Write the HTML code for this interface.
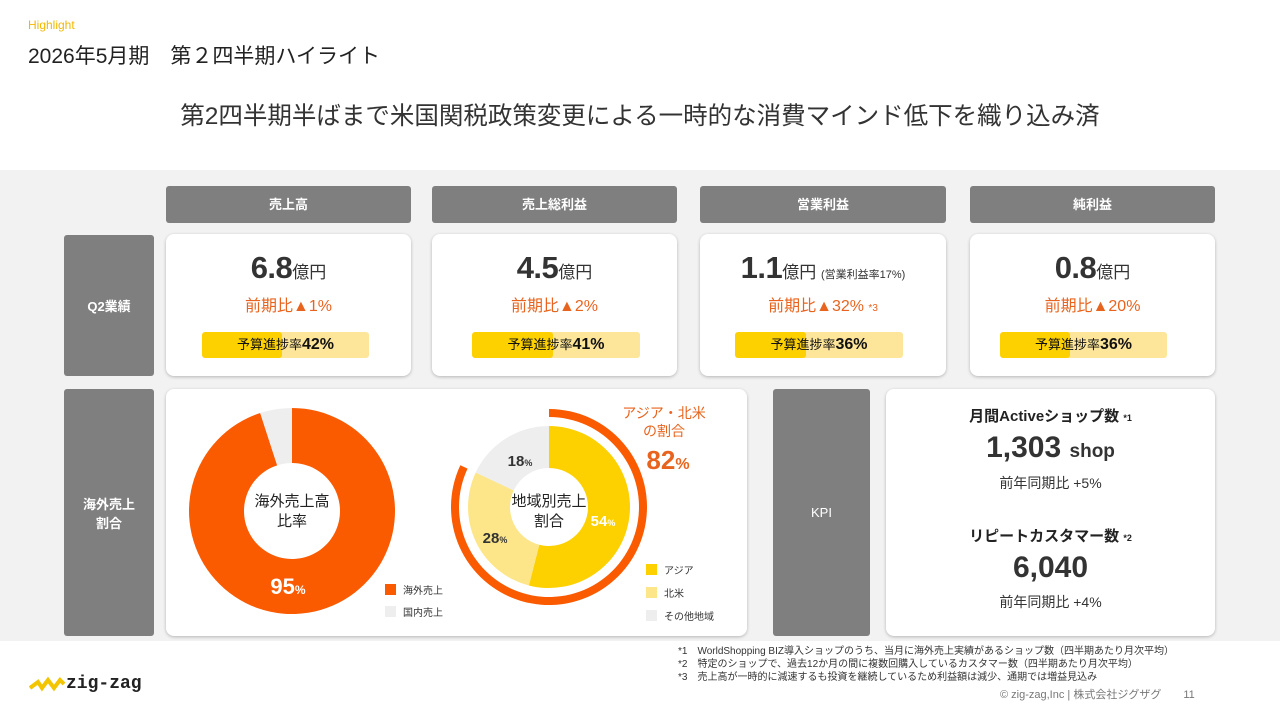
<!DOCTYPE html>
<html><head><meta charset="utf-8">
<style>
*{margin:0;padding:0;box-sizing:border-box}
body{width:1280px;height:720px;background:#fff;font-family:"Liberation Sans","Noto Sans CJK JP",sans-serif;color:#333;position:relative;overflow:hidden}
.a{position:absolute}
.hdr{background:#7f7f7f;color:#fff;font-size:13px;font-weight:bold;text-align:center;line-height:37px;border-radius:3px;height:37px;top:186px}
.side{background:#7f7f7f;color:#fff;font-size:13px;font-weight:bold;display:flex;align-items:center;justify-content:center;text-align:center;border-radius:3px;left:64px;width:90px}
.card{background:#fff;border-radius:8px;box-shadow:0 1px 3px rgba(0,0,0,.25)}
.val{width:100%;text-align:center;top:16px;font-size:17px;color:#333}
.val b{font-size:31px;font-weight:bold;letter-spacing:-0.5px}
.chg{width:100%;text-align:center;top:58px;font-size:16px;color:#e8641e}
.bar{top:98px;height:26px;background:#fde59a;border-radius:3px;overflow:hidden}
.bar i{position:absolute;left:0;top:0;height:100%;background:#fdd000;border-radius:3px}
.bar span{position:absolute;width:100%;text-align:center;font-size:13px;line-height:26px;color:#111}
.bar span b{font-size:16px}
</style></head><body>
<div class="a" style="left:28px;top:18px;font-size:12px;color:#f2b800">Highlight</div>
<div class="a" style="left:28px;top:40px;font-size:21px;color:#222">2026年5月期　第２四半期ハイライト</div>
<div class="a" style="left:0;width:1280px;text-align:center;top:97px;font-size:24.5px;color:#333">第2四半期半ばまで米国関税政策変更による一時的な消費マインド低下を織り込み済</div>
<div class="a" style="left:0;top:170px;width:1280px;height:471px;background:#f2f2f2"></div>

<div class="a hdr" style="left:166px;width:245px">売上高</div>
<div class="a hdr" style="left:432px;width:245px">売上総利益</div>
<div class="a hdr" style="left:700px;width:246px">営業利益</div>
<div class="a hdr" style="left:970px;width:245px">純利益</div>

<div class="a side" style="top:235px;height:141px">Q2業績</div>
<div class="a side" style="top:389px;height:247px">海外売上<br>割合</div>

<div class="a card" style="left:166px;top:234px;width:245px;height:142px">
<div class="a val"><b>6.8</b>億円</div><div class="a chg">前期比▲1%</div>
<div class="a bar" style="left:36px;width:167px"><i style="width:48%"></i><span>予算進捗率<b>42%</b></span></div></div>
<div class="a card" style="left:432px;top:234px;width:245px;height:142px">
<div class="a val"><b>4.5</b>億円</div><div class="a chg">前期比▲2%</div>
<div class="a bar" style="left:40px;width:168px"><i style="width:48%"></i><span>予算進捗率<b>41%</b></span></div></div>
<div class="a card" style="left:700px;top:234px;width:246px;height:142px">
<div class="a val"><b>1.1</b>億円 <span style="font-size:11px">(営業利益率17%)</span></div><div class="a chg">前期比▲32% <span style="font-size:10px">*3</span></div>
<div class="a bar" style="left:35px;width:168px"><i style="width:42%"></i><span>予算進捗率<b>36%</b></span></div></div>
<div class="a card" style="left:970px;top:234px;width:245px;height:142px">
<div class="a val"><b>0.8</b>億円</div><div class="a chg">前期比▲20%</div>
<div class="a bar" style="left:30px;width:167px"><i style="width:42%"></i><span>予算進捗率<b>36%</b></span></div></div>

<div class="a card" style="left:166px;top:389px;width:581px;height:247px"></div>
<svg class="a" id="ch" style="left:0;top:0" width="1280" height="720"></svg>

<div class="a side" style="left:773px;top:389px;height:247px;width:97px;font-weight:normal">KPI</div>
<div class="a card" style="left:886px;top:389px;width:329px;height:247px;text-align:center">
<div class="a" style="width:100%;top:16px;font-size:15px;font-weight:bold;color:#222">月間Activeショップ数 <span style="font-size:9px">*1</span></div>
<div class="a" style="width:100%;top:42px;font-size:30px;font-weight:bold;color:#333">1,303 <span style="font-size:19px">shop</span></div>
<div class="a" style="width:100%;top:84px;font-size:14px">前年同期比 +5%</div>
<div class="a" style="width:100%;top:136px;font-size:15px;font-weight:bold;color:#222">リピートカスタマー数 <span style="font-size:9px">*2</span></div>
<div class="a" style="width:100%;top:162px;font-size:30px;font-weight:bold;color:#333">6,040</div>
<div class="a" style="width:100%;top:203px;font-size:14px">前年同期比 +4%</div>
</div>

<div class="a" style="left:678px;top:645px;font-size:10px;line-height:13px;color:#333">*1　WorldShopping BIZ導入ショップのうち、当月に海外売上実績があるショップ数（四半期あたり月次平均）<br>*2　特定のショップで、過去12か月の間に複数回購入しているカスタマー数（四半期あたり月次平均）<br>*3　売上高が一時的に減速するも投資を継続しているため利益額は減少、通期では増益見込み</div>
<div class="a" style="left:1000px;top:686px;font-size:11px;color:#777">© zig-zag,Inc | 株式会社ジグザグ　　11</div>
<div class="a" style="left:28px;top:670px;display:flex;align-items:center">
<svg width="38" height="28"><polyline points="2,18 10,12 14,18 20,10 26,18 32,10 36,14" fill="none" stroke="#f2c500" stroke-width="4"/></svg>
<span style="font-size:18px;font-family:'Liberation Mono',monospace;font-weight:bold;color:#222">zig-zag</span></div>

<script>
const d1Labels=['海外売上','国内売上'];
const d1Values=[95,5];
const d1Colors=['#fa5a00','#eeeeee'];
const d2Labels=['アジア','北米','その他地域'];
const d2Values=[54,28,18];
const d2Colors=['#fdd000','#fde68a','#eeeeee'];
const ringValue=82;
const svg=document.getElementById('ch');
const NS='http://www.w3.org/2000/svg';
function pt(cx,cy,r,f){const a=f*2*Math.PI-Math.PI/2;return [cx+r*Math.cos(a),cy+r*Math.sin(a)];}
function arc(cx,cy,r0,r1,f0,f1){const L=(f1-f0)>0.5?1:0;const[a,b]=pt(cx,cy,r1,f0),[c,d]=pt(cx,cy,r1,f1),[e,f]=pt(cx,cy,r0,f1),[g,h]=pt(cx,cy,r0,f0);
return `M${a},${b}A${r1},${r1} 0 ${L} 1 ${c},${d}L${e},${f}A${r0},${r0} 0 ${L} 0 ${g},${h}Z`;}
function el(t,at,txt){const e=document.createElementNS(NS,t);for(const k in at)e.setAttribute(k,at[k]);if(txt)e.textContent=txt;svg.appendChild(e);return e;}
function donut(vals,cols,cx,cy,r0,r1,nm){const tot=vals.reduce((a,b)=>a+b,0);let s=0;vals.forEach((v,i)=>{const p=el('path',{d:arc(cx,cy,r0,r1,s/tot,(s+v)/tot),fill:cols[i]});


s+=v;});}
donut(d1Values,d1Colors,292,511,48,103,'overseas');
donut(d2Values,d2Colors,549,507,39,81,'region');
const rg=el('path',{d:arc(549,507,90,98,0,ringValue/100),fill:'#fa5a00'});


function tx(x,y,s,sz,c,w,anchor){return el('text',{x:x,y:y,'font-size':sz,fill:c,'font-weight':w||'normal','text-anchor':anchor||'middle','font-family':'Liberation Sans, Noto Sans CJK JP, sans-serif'},s);}
tx(292,506,'海外売上高',15,'#222');tx(292,526,'比率',15,'#222');
const t1=tx(288,594,'',22,'#fff','bold');t1.innerHTML=d1Values[0]+'<tspan font-size="12">%</tspan>';
tx(549,506,'地域別売上',15,'#222');tx(549,526,'割合',15,'#222');
const t2=tx(603,526,'',15,'#fff','bold');t2.innerHTML=d2Values[0]+'<tspan font-size="9">%</tspan>';
const t3=tx(495,543,'',15,'#333','bold');t3.innerHTML=d2Values[1]+'<tspan font-size="9">%</tspan>';
const t4=tx(520,466,'',15,'#333','bold');t4.innerHTML=d2Values[2]+'<tspan font-size="9">%</tspan>';
tx(664,418,'アジア・北米',14,'#e8641e');tx(664,436,'の割合',14,'#e8641e');
const t5=tx(668,469,'',26,'#e8641e','bold');t5.innerHTML=ringValue+'<tspan font-size="16">%</tspan>';
d1Labels.forEach((l,i)=>{const r=el('rect',{x:385,y:584+i*22,width:11,height:11,fill:d1Colors[i]});


tx(403,594+i*22,l,10,'#333','normal','start');});
d2Labels.forEach((l,i)=>{const r=el('rect',{x:646,y:564+i*23,width:11,height:11,fill:d2Colors[i]});


tx(664,574+i*23,l,10,'#333','normal','start');});
</script>
</body></html>
